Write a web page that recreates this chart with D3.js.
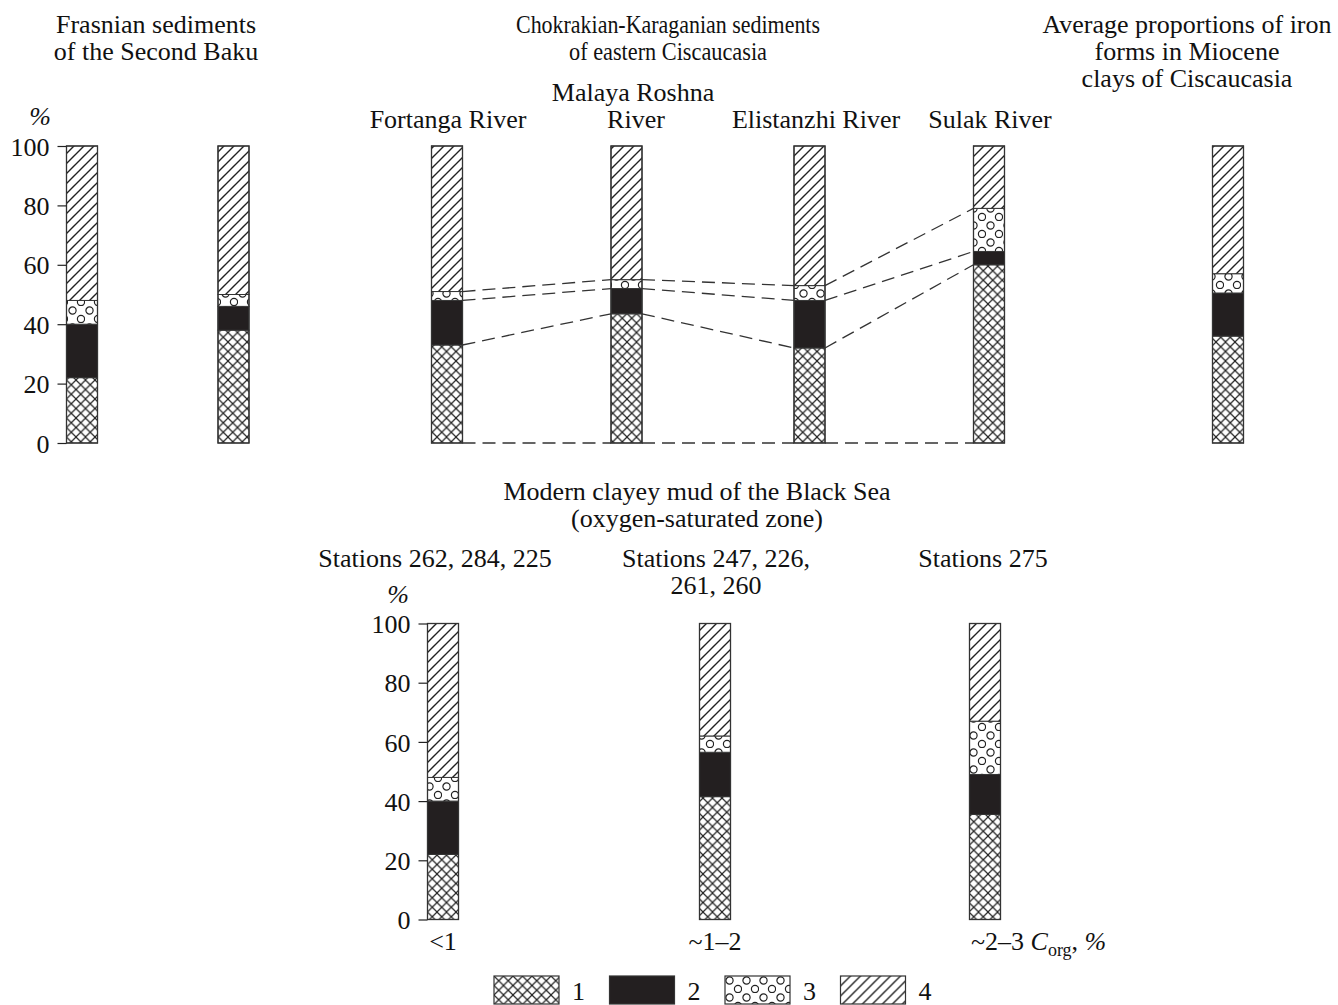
<!DOCTYPE html>
<html>
<head>
<meta charset="utf-8">
<script src="https://cdn.jsdelivr.net/npm/d3@7"></script>
<style>
	body { margin: 0; background: #fff; }
	svg { display: block; }
	text { font-family: "Liberation Serif", "Times New Roman", serif; font-size: 26px; fill: #111; }
	.tick line { stroke: #222; stroke-width: 1.2; }
	.it { font-style: italic; }
</style>
</head>
<body>
<svg></svg>
<script>
//* Data: top panel (shares of iron forms, %)
const topCategories = ["Frasnian A", "Frasnian B", "Fortanga River", "Malaya Roshna River", "Elistanzhi River", "Sulak River", "Miocene average"];
const topForm1 = [22, 38, 33, 43.5, 32, 60, 36];
const topForm2 = [18, 8, 15, 8.5, 16, 4.5, 14.5];
const topForm3 = [8, 4, 3, 3, 5, 14.5, 6.5];
const topForm4 = [52, 50, 49, 45, 47, 21, 43];
const riverCategories = ["Fortanga River", "Malaya Roshna River", "Elistanzhi River", "Sulak River"];

//* Data: bottom panel (Black Sea mud)
const seaCategories = ["<1", "~1–2", "~2–3"];
const seaForm1 = [22, 41.5, 35.5];
const seaForm2 = [18, 15, 13.5];
const seaForm3 = [8, 5.5, 18];
const seaForm4 = [52, 38, 33];

const tickValues = [0, 20, 40, 60, 80, 100];
const legendLabels = ["1", "2", "3", "4"];
const keys = ["f1", "f2", "f3", "f4"];

const svg = d3.select("svg");
svg.attr("width", 1338).attr("height", 1005);

//* Patterns
const defs = svg.append("defs");
const cross = defs.append("pattern").attr("id", "p-f1").attr("patternUnits", "userSpaceOnUse").attr("width", 9.5).attr("height", 9.5);
cross.append("rect").attr("width", 9.5).attr("height", 9.5).attr("fill", "#fff");
cross.append("path").attr("d", "M-1,-1L10.5,10.5M10.5,-1L-1,10.5").attr("stroke", "#222").attr("stroke-width", 1.2);

const solid = defs.append("pattern").attr("id", "p-f2").attr("patternUnits", "userSpaceOnUse").attr("width", 10).attr("height", 10);
solid.append("rect").attr("width", 10).attr("height", 10).attr("fill", "#231f20");

const dots = defs.append("pattern").attr("id", "p-f3").attr("patternUnits", "userSpaceOnUse").attr("width", 17).attr("height", 17);
dots.append("rect").attr("width", 17).attr("height", 17).attr("fill", "#fff");
dots.selectAll("circle")
	.data([[4.5, 4.5], [13, 13]])
	.enter()
	.append("circle")
	.attr("cx", (d) => d[0])
	.attr("cy", (d) => d[1])
	.attr("r", 3.6)
	.attr("fill", "none")
	.attr("stroke", "#222")
	.attr("stroke-width", 1.2);

const hatch = defs.append("pattern").attr("id", "p-f4").attr("patternUnits", "userSpaceOnUse").attr("width", 10).attr("height", 10);
hatch.append("rect").attr("width", 10).attr("height", 10).attr("fill", "#fff");
hatch.append("path").attr("d", "M-2,12L12,-2M-2,2L2,-2M8,12L12,8").attr("stroke", "#222").attr("stroke-width", 1.4);

//* Scales
const barWidth = 31;
const yTop = d3.scaleLinear().domain([0, 100]).range([443, 146]);
const xTop = d3.scaleOrdinal().domain(topCategories).range([82, 233.5, 447, 626.5, 809.5, 989, 1228]);
const yBottom = d3.scaleLinear().domain([0, 100]).range([919.5, 623.5]);
const xBottom = d3.scaleOrdinal().domain(seaCategories).range([443, 715, 985]);

const stack = d3.stack().keys(keys);
const topRows = topCategories.map((c, i) => ({ cat: c, f1: topForm1[i], f2: topForm2[i], f3: topForm3[i], f4: topForm4[i] }));
const seaRows = seaCategories.map((c, i) => ({ cat: c, f1: seaForm1[i], f2: seaForm2[i], f3: seaForm3[i], f4: seaForm4[i] }));
const topStack = stack(topRows);
const seaStack = stack(seaRows);

//* Dashed links between river columns
const dashes = svg.append("g").attr("class", "links");
const linkData = [];
riverCategories.slice(0, -1).forEach((c, j) => {
	const a = topCategories.indexOf(c);
	const b = topCategories.indexOf(riverCategories[j + 1]);
	linkData.push({ a, b, v0: 0, v1: 0 });
	for (let k = 0; k < 3; k++) {
		linkData.push({ a, b, v0: topStack[k][a][1], v1: topStack[k][b][1] });
	}
});
dashes
	.selectAll("line")
	.data(linkData)
	.enter()
	.append("line")
	.attr("x1", (d) => xTop(topCategories[d.a]) + barWidth / 2)
	.attr("x2", (d) => xTop(topCategories[d.b]) - barWidth / 2)
	.attr("y1", (d) => yTop(d.v0))
	.attr("y2", (d) => yTop(d.v1))
	.attr("stroke", "#333")
	.attr("stroke-width", 1.3)
	.attr("stroke-dasharray", "13,7");

//* Bars
function drawBars(series, x, y) {
	const g = svg.append("g");
	g.selectAll("g.layer")
		.data(series)
		.enter()
		.append("g")
		.attr("class", "layer")
		.attr("fill", (d) => `url(#p-${d.key})`)
		.selectAll("rect")
		.data((d) => d)
		.enter()
		.append("rect")
		.attr("x", (d) => x(d.data.cat) - barWidth / 2)
		.attr("y", (d) => y(d[1]))
		.attr("width", barWidth)
		.attr("height", (d) => y(d[0]) - y(d[1]))
		.attr("stroke", "#333")
		.attr("stroke-width", 1);
	g.selectAll("rect.frame")
		.data(series[0])
		.enter()
		.append("rect")
		.attr("class", "frame")
		.attr("x", (d) => x(d.data.cat) - barWidth / 2)
		.attr("y", y(100))
		.attr("width", barWidth)
		.attr("height", y(0) - y(100))
		.attr("fill", "none")
		.attr("stroke", "#333")
		.attr("stroke-width", 1.3);
}
drawBars(topStack, xTop, yTop);
drawBars(seaStack, xBottom, yBottom);

//* Axes
function drawAxis(y, x0) {
	const ax = svg
		.append("g")
		.attr("transform", `translate(${x0}, 0)`)
		.call(d3.axisLeft(y).tickValues(tickValues).tickSize(9).tickPadding(8));
	ax.select(".domain").remove();
	ax.selectAll("text").attr("font-size", null).attr("font-family", null).attr("fill", null).attr("dy", "0.35em");
}
drawAxis(yTop, xTop(topCategories[0]) - barWidth / 2);
drawAxis(yBottom, xBottom(seaCategories[0]) - barWidth / 2);

//* Texts
const labels = [
	{ t: "Frasnian sediments", x: 156, y: 33 },
	{ t: "of the Second Baku", x: 156, y: 60 },
	{ t: "Chokrakian-Karaganian sediments", x: 668, y: 33, w: 304 },
	{ t: "of eastern Ciscaucasia", x: 668, y: 60, w: 198 },
	{ t: "Average proportions of iron", x: 1187, y: 33 },
	{ t: "forms in Miocene", x: 1187, y: 60 },
	{ t: "clays of Ciscaucasia", x: 1187, y: 87 },
	{ t: "Fortanga River", x: 448, y: 128 },
	{ t: "Malaya Roshna", x: 633, y: 101 },
	{ t: "River", x: 636, y: 128 },
	{ t: "Elistanzhi River", x: 816, y: 128 },
	{ t: "Sulak River", x: 990, y: 128 },
	{ t: "Modern clayey mud of the Black Sea", x: 697, y: 500 },
	{ t: "(oxygen-saturated zone)", x: 697, y: 527 },
	{ t: "Stations 262, 284, 225", x: 435, y: 567 },
	{ t: "Stations 247, 226,", x: 716, y: 567 },
	{ t: "261, 260", x: 716, y: 594 },
	{ t: "Stations 275", x: 983, y: 567 }
];
const labelTexts = svg.append("g")
	.selectAll("text")
	.data(labels)
	.enter()
	.append("text")
	.attr("x", (d) => d.x)
	.attr("y", (d) => d.y)
	.attr("text-anchor", "middle")
	.text((d) => d.t);
labelTexts
	.filter((d) => d.w)
	.attr("textLength", (d) => d.w)
	.attr("lengthAdjust", "spacingAndGlyphs");

svg.append("text").attr("class", "it").attr("x", 40).attr("y", 125).attr("text-anchor", "middle").text("%");
svg.append("text").attr("class", "it").attr("x", 398).attr("y", 603).attr("text-anchor", "middle").text("%");

//* Category labels under the sea bars
svg.append("g")
	.selectAll("text")
	.data(seaCategories.slice(0, 2))
	.enter()
	.append("text")
	.attr("x", (d) => xBottom(d))
	.attr("y", 950)
	.attr("text-anchor", "middle")
	.text((d) => d);
const lastLabel = svg
	.append("text")
	.attr("x", xBottom(seaCategories[2]) - 14)
	.attr("y", 950);
lastLabel.append("tspan").text(seaCategories[2] + " ");
lastLabel.append("tspan").attr("class", "it").text("C");
lastLabel.append("tspan").attr("font-size", "18px").attr("dy", 6).text("org");
lastLabel.append("tspan").attr("dy", -6).text(", ");
lastLabel.append("tspan").attr("class", "it").text("%");

//* Legend
const legend = svg
	.append("g")
	.selectAll("g.item")
	.data(keys)
	.enter()
	.append("g")
	.attr("class", "item")
	.attr("transform", (_, i) => `translate(${494 + i * 115.5}, 976)`);
legend
	.append("rect")
	.attr("width", 65)
	.attr("height", 28)
	.attr("fill", (d) => `url(#p-${d})`)
	.attr("stroke", "#333")
	.attr("stroke-width", 1.2);
legend
	.append("text")
	.attr("x", 78)
	.attr("y", 24)
	.text((_, i) => legendLabels[i]);
</script>
</body>
</html>
